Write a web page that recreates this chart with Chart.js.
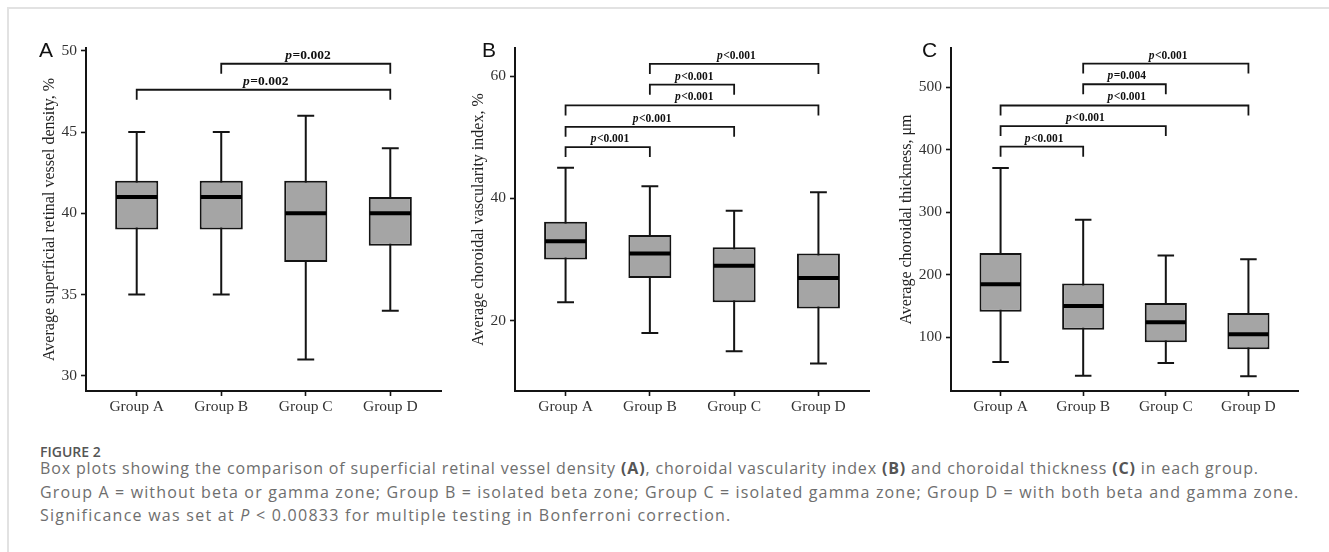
<!DOCTYPE html>
<html>
<head>
<meta charset="utf-8">
<script src="https://cdn.jsdelivr.net/npm/chart.js@4.4.1/dist/chart.umd.min.js"></script>
<style>
  body { margin: 0; background: #fff; width: 1329px; height: 552px; position: relative; overflow: hidden; }
  .frame { position: absolute; left: 7px; top: 7px; width: 1340px; height: 560px; border-left: 2px solid #e2e2e2; border-top: 2px solid #e2e2e2; }
  canvas { position: absolute; top: 30px; }
  .tag { position: absolute; top: 39px; font: 21px "Liberation Sans", Arial, sans-serif; line-height: 21px; color: #111; }
  .fig { position: absolute; left: 40px; top: 445px; font: 600 14px "Open Sans", sans-serif; line-height: 14px; color: #555; }
  .cap { position: absolute; left: 40px; white-space: nowrap; font: 16px "Open Sans", sans-serif; line-height: 16px; letter-spacing: 1px; color: #6e6e6e; }
  .cap b { color: #555; }
</style>
</head>
<body>
<div class="frame"></div>
<canvas id="chartA" width="450" height="390" style="left:0px"></canvas>
<canvas id="chartB" width="430" height="390" style="left:450px"></canvas>
<canvas id="chartC" width="449" height="390" style="left:880px"></canvas>
<div class="tag" style="left:39px">A</div>
<div class="tag" style="left:482px">B</div>
<div class="tag" style="left:922px">C</div>
<div class="fig">FIGURE 2</div>
<div class="cap" style="top:460px;letter-spacing:0.85px">Box plots showing the comparison of superficial retinal vessel density <b>(A)</b>, choroidal vascularity index <b>(B)</b> and choroidal thickness <b>(C)</b> in each group.</div>
<div class="cap" style="top:484px;letter-spacing:1.15px">Group A = without beta or gamma zone; Group B = isolated beta zone; Group C = isolated gamma zone; Group D = with both beta and gamma zone.</div>
<div class="cap" style="top:507px;letter-spacing:1.25px">Significance was set at <i>P</i> &lt; 0.00833 for multiple testing in Bonferroni correction.</div>

<script>
const groups = ['Group A', 'Group B', 'Group C', 'Group D'];

// min, q1, median, q3, max for each group
const vesselDensity = [[35, 39, 41, 42, 45], [35, 39, 41, 42, 45], [31, 37, 40, 42, 46], [34, 38, 40, 41, 44]];
const vascularityIndex = [[23, 30, 33, 36.2, 45], [18, 27, 31, 34, 42], [15, 23, 29, 32, 38], [13, 22, 27, 31, 41]];
const choroidThickness = [[60.5, 141, 185, 235, 371], [38.6, 112, 150, 186, 288], [59, 92, 124, 155, 231], [37.6, 81, 105, 139, 225]];

const ticksA = [30, 35, 40, 45, 50];
const ticksB = [20, 40, 60];
const ticksC = [100, 200, 300, 400, 500];

// comparisons: group from, group to, bracket height (data units), label
const pairsA = [[1, 4, 47.6, 'p=0.002'], [2, 4, 49.2, 'p=0.002']];
const pairsB = [[1, 2, 48.4, 'p<0.001'], [1, 3, 51.7, 'p<0.001'], [1, 4, 55.2, 'p<0.001'], [2, 3, 58.6, 'p<0.001'], [2, 4, 62.0, 'p<0.001']];
const pairsC = [[1, 2, 405, 'p<0.001'], [1, 3, 438, 'p<0.001'], [1, 4, 471, 'p<0.001'], [2, 3, 505, 'p=0.004'], [2, 4, 538, 'p<0.001']];

const ink = '#141414';

function boxPlugin(stats, pairs, labelSize) {
  return {
    id: 'boxes',
    beforeDatasetsDraw(chart) {
      // whiskers and caps
      const {ctx, scales: {x, y}} = chart;
      ctx.save();
      ctx.strokeStyle = ink;
      ctx.lineWidth = 2;
      stats.forEach((s, i) => {
        const cx = x.getPixelForValue(i + 1);
        const half = x.getPixelForValue(i + 1.1) - cx;
        ctx.beginPath();
        ctx.moveTo(cx, y.getPixelForValue(s[0]));
        ctx.lineTo(cx, y.getPixelForValue(s[4]));
        [s[0], s[4]].forEach(v => {
          const py = y.getPixelForValue(v);
          ctx.moveTo(cx - half, py);
          ctx.lineTo(cx + half, py);
        });
        ctx.stroke();
      });
      ctx.restore();
    },
    afterDatasetsDraw(chart) {
      const {ctx, scales: {x, y}} = chart;
      const bars = chart.getDatasetMeta(0).data;
      ctx.save();
      // medians
      ctx.strokeStyle = '#000';
      ctx.lineWidth = 4;
      stats.forEach((s, i) => {
        const b = bars[i];
        const py = y.getPixelForValue(s[2]);
        ctx.beginPath();
        ctx.moveTo(b.x - b.width / 2 + 1, py);
        ctx.lineTo(b.x + b.width / 2 - 1, py);
        ctx.stroke();
      });
      // significance brackets
      ctx.strokeStyle = ink;
      ctx.lineWidth = 1.8;
      ctx.fillStyle = '#111';
      ctx.textBaseline = 'alphabetic';
      pairs.forEach(([g1, g2, lvl, label]) => {
        const x1 = x.getPixelForValue(g1);
        const x2 = x.getPixelForValue(g2);
        const py = y.getPixelForValue(lvl);
        ctx.beginPath();
        ctx.moveTo(x1, py + 10);
        ctx.lineTo(x1, py);
        ctx.lineTo(x2, py);
        ctx.lineTo(x2, py + 10);
        ctx.stroke();
        const head = label.slice(0, 1), rest = label.slice(1);
        ctx.font = 'italic bold ' + labelSize + 'px "Liberation Serif"';
        const w1 = ctx.measureText(head).width;
        ctx.font = 'bold ' + labelSize + 'px "Liberation Serif"';
        const w2 = ctx.measureText(rest).width;
        const sx = (x1 + x2) / 2 - (w1 + w2) / 2 + 2;
        ctx.font = 'italic bold ' + labelSize + 'px "Liberation Serif"';
        ctx.fillText(head, sx, py - 5);
        ctx.font = 'bold ' + labelSize + 'px "Liberation Serif"';
        ctx.fillText(rest, sx + w1 + 0.5, py - 5);
      });
      ctx.restore();
    }
  };
}

function makeChart(id, stats, ticks, pairs, opts) {
  new Chart(document.getElementById(id), {
    type: 'bar',
    data: {
      datasets: [{
        data: stats.map((s, i) => ({x: i + 1, y: [s[1], s[3]]})),
        backgroundColor: '#a5a5a5',
        borderColor: ink,
        borderWidth: 2,
        borderSkipped: false,
        barPercentage: 0.51,
        categoryPercentage: 1
      }]
    },
    options: {
      responsive: false,
      animation: false,
      devicePixelRatio: 1,
      layout: {padding: {top: 18, right: opts.right, left: 0, bottom: 0}},
      plugins: {legend: {display: false}, tooltip: {enabled: false}},
      scales: {
        x: {
          type: 'linear',
          offset: false,
          min: 0.4,
          max: 4.6,
          afterBuildTicks: s => { s.ticks = [1, 2, 3, 4].map(v => ({value: v})); },
          afterFit: s => { s.height = 29; },
          grid: {offset: false, drawOnChartArea: false, tickLength: 5, tickColor: ink, tickWidth: 1.6},
          border: {display: true, color: ink, width: 2},
          ticks: {
            callback: v => groups[v - 1],
            autoSkip: false,
            maxRotation: 0,
            padding: 2,
            color: '#333',
            font: {family: 'Liberation Serif', size: 15.5}
          }
        },
        y: {
          min: opts.min,
          max: opts.max,
          afterBuildTicks: s => { s.ticks = ticks.map(v => ({value: v})); },
          afterFit: s => { s.width = opts.yw; },
          grid: {drawOnChartArea: false, tickLength: 5, tickColor: ink, tickWidth: 1.6},
          border: {display: true, color: ink, width: 2},
          ticks: {padding: 4, color: '#333', font: {family: 'Liberation Serif', size: 15.5}},
          title: {
            display: true,
            text: opts.title,
            color: '#222',
            font: {family: 'Liberation Serif', size: 16},
            padding: {top: opts.tp, bottom: 0}
          }
        }
      }
    },
    plugins: [boxPlugin(stats, pairs, opts.label)]
  });
}

makeChart('chartA', vesselDensity, ticksA, pairsA,
  {min: 29.06, max: 50.17, yw: 86, right: 9, tp: 40, label: 13.5, title: 'Average superficial retinal vessel density, %'});
makeChart('chartB', vascularityIndex, ticksB, pairsB,
  {min: 8.5, max: 64.6, yw: 65, right: 11, tp: 19, label: 11.5, title: 'Average choroidal vascularity index, %'});
makeChart('chartC', choroidThickness, ticksC, pairsC,
  {min: 14, max: 563, yw: 71, right: 31, tp: 17, label: 11.5, title: 'Average choroidal thickness, μm'});
</script>
</body>
</html>
